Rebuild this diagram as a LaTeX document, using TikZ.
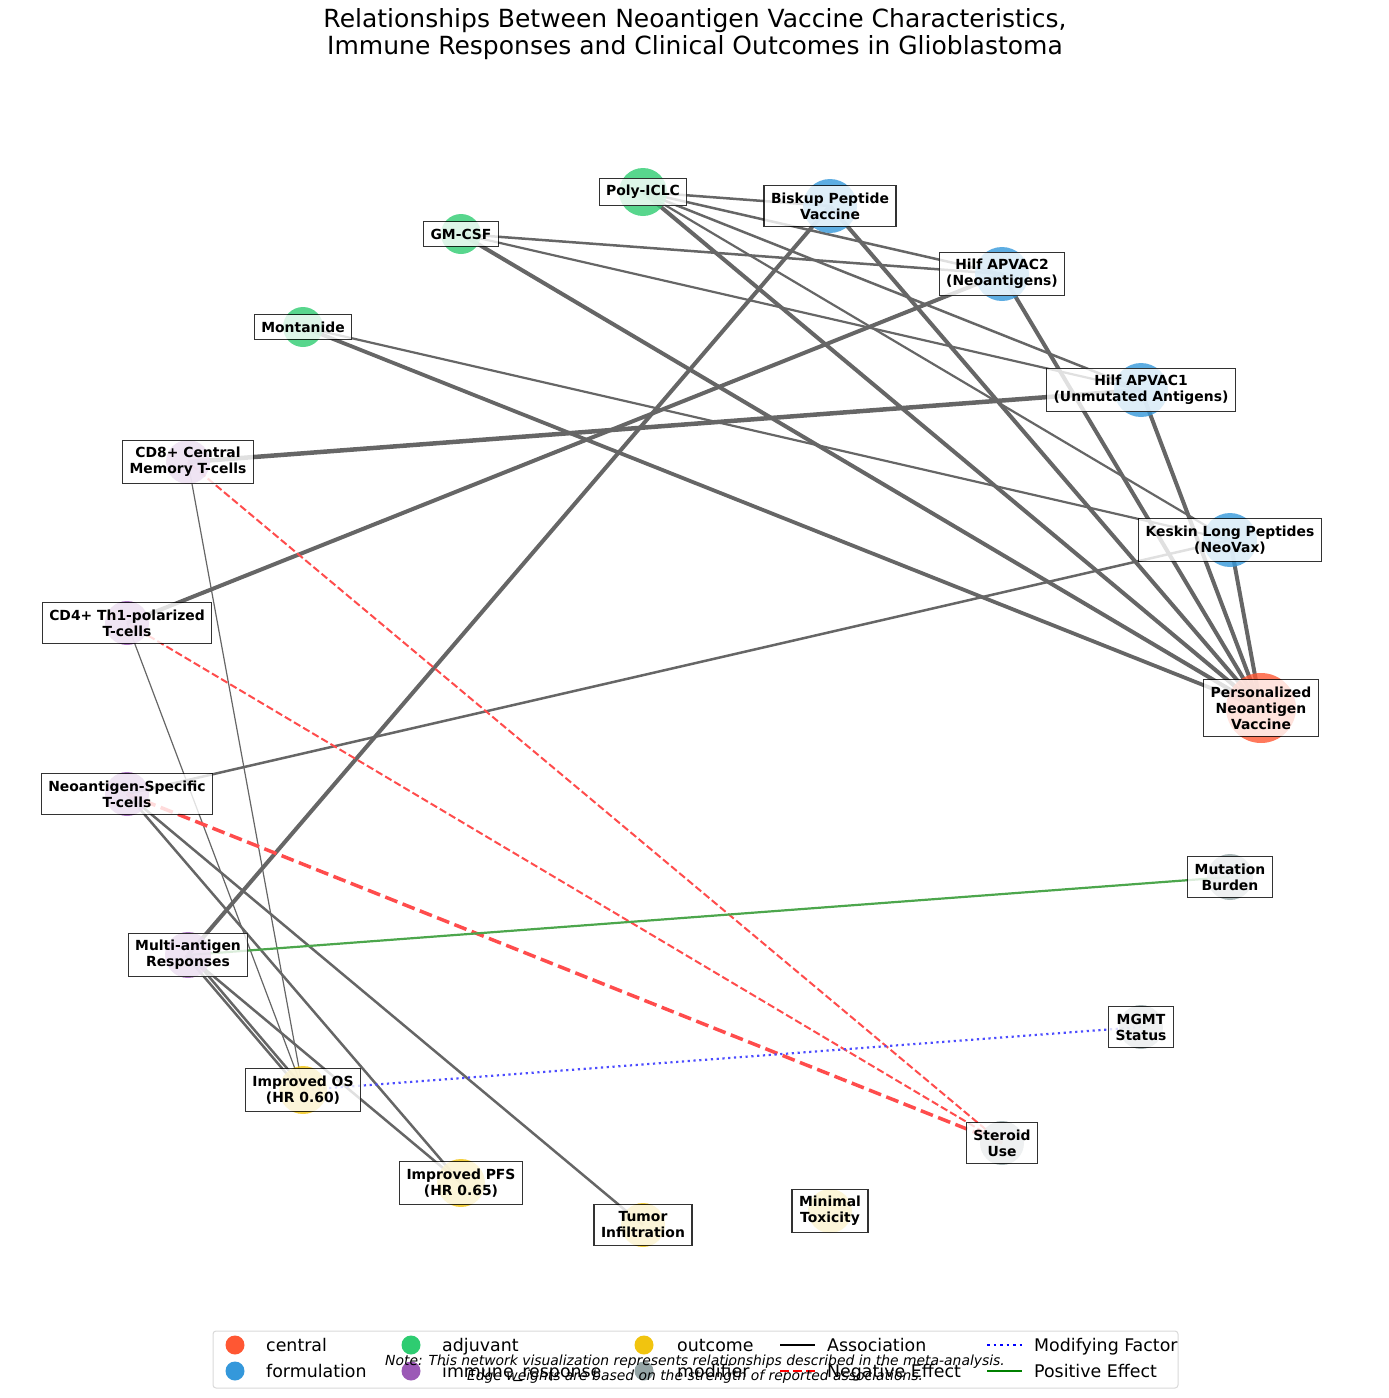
\documentclass[tikz,border=0pt]{standalone}
\usepackage{fontspec}
\setmainfont{DejaVu Sans}
\usetikzlibrary{backgrounds}

% node group colours
\definecolor{central}{HTML}{FF5733}
\definecolor{formulation}{HTML}{3498DB}
\definecolor{adjuvant}{HTML}{2ECC71}
\definecolor{immune}{HTML}{9B59B6}
\definecolor{outcome}{HTML}{F1C40F}
\definecolor{modifier}{HTML}{95A5A6}
\definecolor{posgreen}{HTML}{008000}

\tikzset{
  dot/.style={circle, fill=#1, fill opacity=0.8, draw=none, inner sep=0pt},
  lbl/.style={draw=black, draw opacity=0.8, fill=white, fill opacity=0.8, text opacity=1,
    line width=1.2pt, inner xsep=7pt, inner ysep=7pt, align=center,
    font=\fontsize{13.9}{16}\selectfont\bfseries},
  assoc/.style={draw=black!60, line width=#1},
  negeff/.style={draw=red!70, line width=#1, dash pattern=on 7.4pt off 3.2pt},
  modfac/.style={draw=blue!70, line width=#1, dash pattern=on 2.2pt off 3.6pt},
  poseff/.style={draw=posgreen!70, line width=#1},
  legdot/.style={circle, fill=#1, inner sep=0pt, minimum size=19pt},
  legtext/.style={anchor=base west, inner sep=0pt, font=\fontsize{17.4}{19}\selectfont},
}

\begin{document}
\begin{tikzpicture}[x=1pt, y=-1pt]
    \useasboundingbox (0,0) rectangle (1389,1398);

    % Title
    \node[anchor=north, inner sep=0pt, align=center, font=\fontsize{25}{27.5}\selectfont] (title) at (695,8)
        {Relationships Between Neoantigen Vaccine Characteristics,\\Immune Responses and Clinical Outcomes in Glioblastoma};

    % Central node and formulations
    \node[dot=central, minimum size=70pt] (pnv) at (1261,708) {};
    \node[dot=formulation, minimum size=54pt] (keskin) at (1230,540) {};
    \node[dot=formulation, minimum size=54pt] (apvac1) at (1141,390) {};
    \node[dot=formulation, minimum size=54pt] (apvac2) at (1002,274) {};
    \node[dot=formulation, minimum size=54pt] (biskup) at (830,206) {};

    % Adjuvants
    \node[dot=adjuvant, minimum size=48pt] (polyiclc) at (643,192) {};
    \node[dot=adjuvant, minimum size=40pt] (gmcsf) at (461,234) {};
    \node[dot=adjuvant, minimum size=40pt] (montanide) at (303,327) {};

    % Immune responses
    \node[dot=immune, minimum size=44pt] (cd8) at (188,462) {};
    \node[dot=immune, minimum size=44pt] (cd4) at (127,623) {};
    \node[dot=immune, minimum size=44pt] (neot) at (127,794) {};
    \node[dot=immune, minimum size=46pt] (multi) at (188,955) {};

    % Outcomes
    \node[dot=outcome, minimum size=48pt] (os) at (303,1090) {};
    \node[dot=outcome, minimum size=48pt] (pfs) at (461,1183) {};
    \node[dot=outcome, minimum size=44pt] (tumor) at (643,1225) {};
    \node[dot=outcome, minimum size=44pt] (toxicity) at (830,1211) {};

    % Modifiers
    \node[dot=modifier, minimum size=44pt] (steroid) at (1002,1143) {};
    \node[dot=modifier, minimum size=44pt] (mgmt) at (1141,1027) {};
    \node[dot=modifier, minimum size=46pt] (tmb) at (1230,877) {};

    % Edges (under the nodes)
    \begin{pgfonlayer}{background}
        \draw[assoc=4pt] (keskin.center) -- (pnv.center);
        \draw[assoc=4pt] (apvac1.center) -- (pnv.center);
        \draw[assoc=4pt] (apvac2.center) -- (pnv.center);
        \draw[assoc=4pt] (biskup.center) -- (pnv.center);
        \draw[assoc=4pt] (polyiclc.center) -- (pnv.center);
        \draw[assoc=4pt] (gmcsf.center) -- (pnv.center);
        \draw[assoc=3.8pt] (montanide.center) -- (pnv.center);

        \draw[assoc=2.5pt] (polyiclc.center) -- (biskup.center);
        \draw[assoc=2.5pt] (polyiclc.center) -- (apvac2.center);
        \draw[assoc=2.5pt] (polyiclc.center) -- (apvac1.center);
        \draw[assoc=2.2pt] (polyiclc.center) -- (keskin.center);
        \draw[assoc=2.5pt] (gmcsf.center) -- (apvac2.center);
        \draw[assoc=2.2pt] (gmcsf.center) -- (apvac1.center);
        \draw[assoc=2.2pt] (montanide.center) -- (keskin.center);

        \draw[assoc=4.5pt] (apvac1.center) -- (cd8.center);
        \draw[assoc=4pt] (apvac2.center) -- (cd4.center);
        \draw[assoc=4pt] (biskup.center) -- (multi.center);
        \draw[assoc=2.5pt] (keskin.center) -- (neot.center);

        \draw[assoc=1.2pt] (cd8.center) -- (os.center);
        \draw[assoc=1.2pt] (cd4.center) -- (os.center);
        \draw[assoc=2.5pt] ([xshift=-2.5pt]multi.center) -- ([xshift=-2.5pt]os.center);
        \draw[assoc=2.5pt] ([xshift=2.5pt]multi.center) -- ([xshift=2.5pt]os.center);
        \draw[assoc=2.5pt] (multi.center) -- (pfs.center);
        \draw[assoc=2.5pt] (neot.center) -- (pfs.center);
        \draw[assoc=2.5pt] (neot.center) -- (tumor.center);

        \draw[negeff=2pt] (steroid.center) -- (cd8.center);
        \draw[negeff=2pt] (steroid.center) -- (cd4.center);
        \draw[negeff=3.5pt, dash pattern=on 13pt off 5.6pt] (steroid.center) -- (neot.center);
        \draw[modfac=2.2pt] (mgmt.center) -- (os.center);
        \draw[poseff=2.2pt] (tmb.center) -- (multi.center);
    \end{pgfonlayer}

    % Labels
    \node[lbl] (pnv-l) at (pnv) {Personalized\\Neoantigen\\Vaccine};
    \node[lbl] (keskin-l) at (keskin) {Keskin Long Peptides\\(NeoVax)};
    \node[lbl] (apvac1-l) at (apvac1) {Hilf APVAC1\\(Unmutated Antigens)};
    \node[lbl] (apvac2-l) at (apvac2) {Hilf APVAC2\\(Neoantigens)};
    \node[lbl] (biskup-l) at (biskup) {Biskup Peptide\\Vaccine};
    \node[lbl] (polyiclc-l) at (polyiclc) {Poly-ICLC};
    \node[lbl] (gmcsf-l) at (gmcsf) {GM-CSF};
    \node[lbl] (montanide-l) at (montanide) {Montanide};
    \node[lbl] (cd8-l) at (cd8) {CD8+ Central\\Memory T-cells};
    \node[lbl] (cd4-l) at (cd4) {CD4+ Th1-polarized\\T-cells};
    \node[lbl] (neot-l) at (neot) {Neoantigen-Specific\\T-cells};
    \node[lbl] (multi-l) at (multi) {Multi-antigen\\Responses};
    \node[lbl] (os-l) at (os) {Improved OS\\(HR 0.60)};
    \node[lbl] (pfs-l) at (pfs) {Improved PFS\\(HR 0.65)};
    \node[lbl] (tumor-l) at (tumor) {Tumor\\Infiltration};
    \node[lbl] (toxicity-l) at (toxicity) {Minimal\\Toxicity};
    \node[lbl] (steroid-l) at (steroid) {Steroid\\Use};
    \node[lbl] (mgmt-l) at (mgmt) {MGMT\\Status};
    \node[lbl] (tmb-l) at (tmb) {Mutation\\Burden};

    % Legend
    \draw[draw=black!15, line width=1pt, fill=white, fill opacity=0.8, rounded corners=3pt]
        (213,1331) rectangle (1178,1388);
    \node[legdot=central] (k-central) at (235,1345) {};
    \node[legtext] (t-central) at (266,1351) {central};
    \node[legdot=formulation] (k-formulation) at (235,1371) {};
    \node[legtext] (t-formulation) at (266,1377) {formulation};
    \node[legdot=adjuvant] (k-adjuvant) at (411,1345) {};
    \node[legtext] (t-adjuvant) at (442,1351) {adjuvant};
    \node[legdot=immune] (k-immune) at (411,1371) {};
    \node[legtext] (t-immune) at (442,1377) {immune\_response};
    \node[legdot=outcome] (k-outcome) at (644,1345) {};
    \node[legtext] (t-outcome) at (677,1351) {outcome};
    \node[legdot=modifier] (k-modifier) at (644,1371) {};
    \node[legtext] (t-modifier) at (677,1377) {modifier};

    \coordinate (k-assoc-a) at (780,1345);
    \coordinate (k-assoc-b) at (815,1345);
    \draw[black, line width=2.5pt] (k-assoc-a) -- (k-assoc-b);
    \node[legtext] (t-assoc) at (827,1351) {Association};
    \coordinate (k-neg-a) at (780,1371);
    \coordinate (k-neg-b) at (815,1371);
    \draw[red, line width=2.5pt, dash pattern=on 9pt off 4pt] (k-neg-a) -- (k-neg-b);
    \node[legtext] (t-neg) at (827,1377) {Negative Effect};
    \coordinate (k-mod-a) at (987,1345);
    \coordinate (k-mod-b) at (1022,1345);
    \draw[blue, line width=2.5pt, dash pattern=on 2.5pt off 4pt] (k-mod-a) -- (k-mod-b);
    \node[legtext] (t-mod) at (1034,1351) {Modifying Factor};
    \coordinate (k-pos-a) at (987,1371);
    \coordinate (k-pos-b) at (1022,1371);
    \draw[posgreen, line width=2.5pt] (k-pos-a) -- (k-pos-b);
    \node[legtext] (t-pos) at (1034,1377) {Positive Effect};

    % Footnote
    \node[inner sep=0pt, align=center, font=\fontsize{13.9}{14.5}\selectfont\itshape] (note) at (695,1369)
        {Note: This network visualization represents relationships described in the meta-analysis.\\Edge weights are based on the strength of reported associations.};
\end{tikzpicture}
\end{document}
